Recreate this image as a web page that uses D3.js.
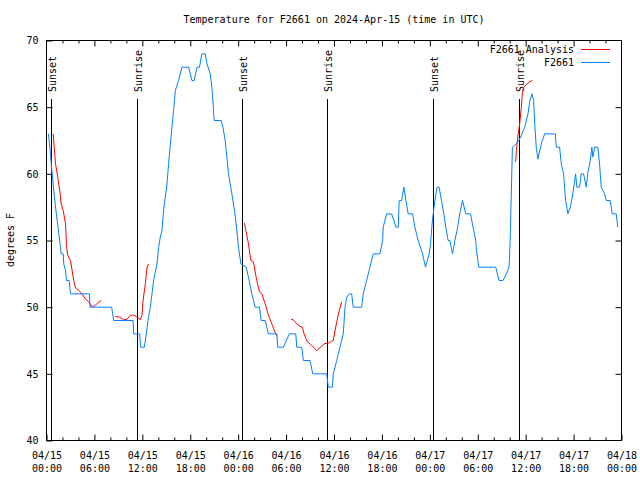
<!DOCTYPE html>
<html><head><meta charset="utf-8">
<script src="https://cdn.jsdelivr.net/npm/d3@7"></script>
<style>
html,body{margin:0;padding:0;background:#fff;}
svg{display:block;}
text{font-family:"DejaVu Sans Mono",monospace;font-size:10px;fill:#000;}
</style></head>
<body><svg id="chart" width="640" height="480"></svg>
<script>
// ---- data (hours since 2024-04-15 00:00 UTC) ----
const observedHours = [0.25,0.5,0.63,0.79,0.91,1.13,1.34,1.54,1.75,1.84,2.09,2.16,2.38,2.5,2.84,3.0,5.38,5.46,8.16,8.41,10.84,10.91,11.66,11.79,12.25,12.5,12.71,13.0,13.21,13.41,13.84,14.04,14.25,14.46,14.66,15.09,15.29,15.59,15.91,16.13,16.54,16.96,17.79,18.21,18.5,18.84,19.16,19.46,19.88,20.09,20.5,20.71,21.0,21.88,22.09,22.38,22.79,23.21,23.54,23.84,24.04,24.34,25.0,25.29,25.71,26.13,26.66,26.88,27.38,27.79,28.84,28.96,29.66,30.41,31.21,31.34,31.96,32.16,33.0,33.34,35.09,35.29,35.79,35.91,36.34,36.75,37.16,37.38,37.59,37.91,38.21,38.41,39.46,39.66,40.09,40.5,40.91,41.75,42.09,42.16,42.59,43.21,43.5,43.75,44.04,44.16,44.46,44.75,45.0,45.29,45.84,46.13,46.54,47.09,47.46,47.69,47.91,48.09,48.21,48.34,48.63,48.91,49.16,49.46,49.75,50.0,50.29,50.5,50.84,51.13,51.41,51.75,52.09,52.5,53.09,53.41,53.75,53.84,54.13,56.25,56.66,57.16,57.59,57.91,58.0,58.09,58.34,58.84,59.16,59.46,59.88,60.29,60.5,60.79,61.0,61.13,61.34,61.54,61.75,62.04,62.38,63.71,63.84,64.25,64.46,64.75,65.0,65.29,65.59,65.91,66.25,66.41,66.75,66.96,67.25,67.59,67.79,68.09,68.29,68.41,68.63,69.04,69.25,69.46,69.88,70.09,70.59,70.84,71.34,71.54];
const observedTemps = [63,61.5,60.5,59.5,58.75,57.5,56.5,55.5,54.5,54,54,53.25,52.75,52,52,51,51,50,50,49,49,48,48,47,47,48,49,50,51,52,53.25,54.5,55.25,55.75,57.25,59.25,60.75,62.75,64.75,66.25,67,68,68,67,67,68,68,69,69,68.25,67.5,66.5,64,64,63.5,62.5,60,58.5,57.25,55.75,54.5,53.25,53,52.25,51,50,50,49,49,48,48,47,47,48,48,47,47,46,46,45,45,44,44,45,46,47,48,50,50.75,51,51,50,50,51,52,53,54,54,55,56,57,57,56.5,56,56,58,58,59,58,57,57,56,55,54,53,53.5,54,54.75,55.75,56.6,58,59,59,58,57,56,55,55,54,55,55.75,57,58,57,57,56,55,54.25,53,53,52,52,52.5,53,54,55.75,62,62.25,62.5,62.9,63.5,64.5,65.4,66,65.5,63.75,61.9,61.1,61.75,62.4,63,63,62,62,60.75,60,58,57,57.5,58.5,60,59,59,60,60,59,60.1,61,62,61.25,62,62,60.75,59,58.5,58,58,57,57,56];
// analysis segments separated by null
const analysisHours = [0.84,1.13,1.41,1.66,1.84,2.09,2.38,2.44,2.5,2.66,3.0,3.21,3.41,3.63,4.04,4.46,4.88,5.29,5.59,5.91,6.41,6.88,null,
  8.63,9.16,9.66,10.09,10.5,10.91,11.34,11.75,11.96,12.09,12.38,12.59,12.79,null,
  24.79,24.96,25.29,25.59,25.91,26.25,26.66,26.96,27.38,27.79,28.21,28.63,28.91,null,
  30.63,30.91,31.34,31.75,32.04,32.25,32.66,33.0,33.41,33.84,34.25,34.75,35.29,35.71,35.91,36.13,36.41,36.66,36.96,null,
  58.75,58.84,59.04,59.25,59.46,59.59,59.75,60.09,60.5,60.84];
const analysisTemps = [63,60.75,59.75,58.75,57.75,57.25,56.25,55.5,54.55,53.9,53.5,52.75,52,51.45,51.25,51,50.6,50.4,50.1,50.05,50.3,50.5,null,
  49.3,49.25,49.05,49.1,49.4,49.4,49.25,49.05,49.4,50.5,51.75,53,53.25,null,
  56.3,55.75,54.75,53.5,53.4,52.25,51.15,51,50.25,49.4,48.75,48.1,47.8,null,
  49.1,49.05,48.75,48.55,48.5,48,47.4,47.25,47,46.75,46.95,47.25,47.3,47.45,47.5,48.25,49.1,49.75,50.4,null,
  60.9,61.75,62.9,63.75,65,66.1,66.5,66.7,66.9,67];
const sunEventHours = [0.58,11.33,24.42,35.17,48.42,59.17];
const sunEventLabels = ["Sunset","Sunrise","Sunset","Sunrise","Sunset","Sunrise"];
const xMajorTicks = [0,6,12,18,24,30,36,42,48,54,60,66,72];
const xTickDates = ["04/15","04/15","04/15","04/15","04/16","04/16","04/16","04/16","04/17","04/17","04/17","04/17","04/18"];
const xTickTimes = ["00:00","06:00","12:00","18:00","00:00","06:00","12:00","18:00","00:00","06:00","12:00","18:00","00:00"];
const xMinorTicks = [2,4,8,10,14,16,20,22,26,28,32,34,38,40,44,46,50,52,56,58,62,64,68,70];
const yTicks = [40,45,50,55,60,65,70];
const seriesNames = ["F2661 Analysis","F2661"];
const seriesColors = ["#ff0000","#0080ff"];
const titleText = "Temperature for F2661 on 2024-Apr-15 (time in UTC)";
const yLabelText = "degrees F";

// ---- layout ----
const L=46.5, R=621.5, T=40.5, B=440.5;
const svg = d3.select("#chart");
const x = d3.scaleLinear().domain([0,72]).range([L,R]);
const y = d3.scaleLinear().domain([40,70]).range([B,T]);

// axes
const gL = svg.append("g").attr("transform",`translate(${L},0)`)
  .call(d3.axisLeft(y).tickValues(yTicks).tickSize(-6).tickPadding(8).tickFormat(d3.format("d")));
const gR = svg.append("g").attr("transform",`translate(${R},0)`)
  .call(d3.axisRight(y).tickValues(yTicks.slice(1,-1)).tickSize(-6).tickFormat(""));
const gB = svg.append("g").attr("transform",`translate(0,${B})`)
  .call(d3.axisBottom(x).tickValues(xMajorTicks).tickSize(-6).tickPadding(11).tickFormat((d,i)=>i));
const gBm = svg.append("g").attr("transform",`translate(0,${B})`)
  .call(d3.axisBottom(x).tickValues(xMinorTicks).tickSize(-3).tickFormat(""));
const gT = svg.append("g").attr("transform",`translate(0,${T})`)
  .call(d3.axisTop(x).tickValues(xMajorTicks.slice(1,-1)).tickSize(-6).tickFormat(""));
const gTm = svg.append("g").attr("transform",`translate(0,${T})`)
  .call(d3.axisTop(x).tickValues(xMinorTicks).tickSize(-3).tickFormat(""));
[gL,gR,gB,gBm,gT,gTm].forEach(g=>{
  g.select(".domain").remove();
  g.selectAll(".tick line").attr("stroke","#000");
  g.selectAll("text").attr("font-family",null).attr("font-size",null);
});
gB.selectAll(".tick text").each(function(d){
  const i = xMajorTicks.indexOf(d);
  const t = d3.select(this); t.text(null);
  t.append("tspan").attr("x",0).attr("dy","0.71em").text(xTickDates[i]);
  t.append("tspan").attr("x",0).attr("dy","13px").text(xTickTimes[i]);
});

// frame
svg.append("rect").attr("x",L).attr("y",T).attr("width",R-L).attr("height",B-T)
  .attr("fill","none").attr("stroke","#000").attr("stroke-width",1);

// sun events
const sun = svg.append("g");
sunEventHours.forEach((h,i)=>{
  const px = Math.round(x(h)) + 0.5;
  sun.append("line").attr("x1",px).attr("x2",px).attr("y1",99).attr("y2",B)
    .attr("stroke","#000").attr("stroke-width",1);
  sun.append("text").attr("transform",`translate(${px+4.5},92) rotate(-90)`)
    .attr("text-anchor","start").text(sunEventLabels[i]);
});

// lines
const line = d3.line().defined(d=>d[0]!==null && d[1]!==null).x(d=>x(d[0])).y(d=>y(d[1]));
const redData = analysisHours.map((h,i)=>[h,analysisTemps[i]]);
const blueData = observedHours.map((h,i)=>[h,observedTemps[i]]);
svg.append("path").datum(redData).attr("d",line).attr("fill","none")
  .attr("stroke",seriesColors[0]).attr("stroke-width",1);
svg.append("path").datum(blueData).attr("d",line).attr("fill","none")
  .attr("stroke",seriesColors[1]).attr("stroke-width",1);

// legend
seriesNames.forEach((n,i)=>{
  const ly = 49.5 + i*13;
  svg.append("text").attr("x",574).attr("y",ly+3.5).attr("text-anchor","end").text(n);
  svg.append("line").attr("x1",581).attr("x2",610).attr("y1",ly).attr("y2",ly)
    .attr("stroke",seriesColors[i]).attr("stroke-width",1);
});

// title & y label
svg.append("text").attr("x",(L+R)/2).attr("y",23).attr("text-anchor","middle").text(titleText);
svg.append("text").attr("transform","translate(14,240) rotate(-90)").attr("text-anchor","middle").text(yLabelText);
</script></body></html>
